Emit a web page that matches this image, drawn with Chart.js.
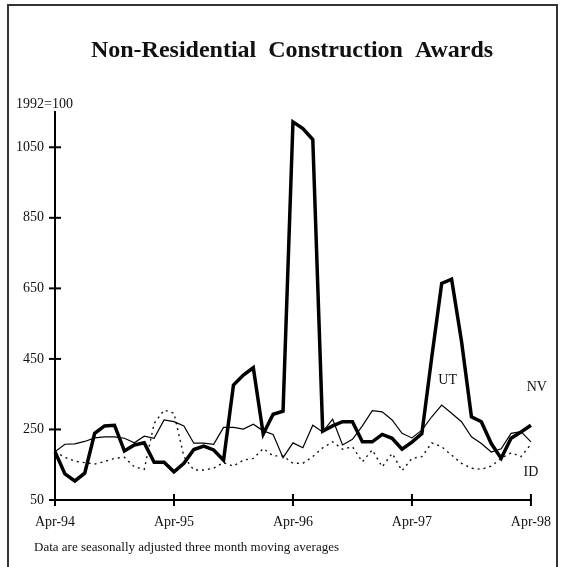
<!DOCTYPE html>
<html>
<head>
<meta charset="utf-8">
<script src="https://cdn.jsdelivr.net/npm/chart.js@4.4.1/dist/chart.umd.min.js"></script>
<style>
  html, body { margin: 0; padding: 0; background: #fff; }
</style>
</head>
<body>
<canvas id="myChart" width="565" height="567"></canvas>
<script>
var meses = ['Apr-94','May-94','Jun-94','Jul-94','Aug-94','Sep-94','Oct-94','Nov-94','Dec-94','Jan-95','Feb-95','Mar-95',
             'Apr-95','May-95','Jun-95','Jul-95','Aug-95','Sep-95','Oct-95','Nov-95','Dec-95','Jan-96','Feb-96','Mar-96',
             'Apr-96','May-96','Jun-96','Jul-96','Aug-96','Sep-96','Oct-96','Nov-96','Dec-96','Jan-97','Feb-97','Mar-97',
             'Apr-97','May-97','Jun-97','Jul-97','Aug-97','Sep-97','Oct-97','Nov-97','Dec-97','Jan-98','Feb-98','Mar-98',
             'Apr-98'];
var etiquetasX = ['Apr-94','Apr-95','Apr-96','Apr-97','Apr-98'];
var marcasY = [50, 250, 450, 650, 850, 1050];

var ut = [187,124,104,126,239,260,262,189,206,212,157,157,
          130,154,193,203,192,163,376,404,425,237,293,302,
          1122,1103,1072,245,260,272,272,215,215,236,225,194,
          214,238,455,664,676,500,286,272,210,168,225,243,
          262];
var nv = [187,208,209,216,226,229,229,225,212,231,225,277,
          272,260,211,211,208,256,256,251,265,246,236,170,
          212,198,262,243,279,206,222,260,303,300,277,239,
          226,248,286,319,296,272,229,210,186,195,239,244,
          215];
var id = [187,171,160,156,152,159,168,171,144,137,267,305,
          296,173,135,135,140,156,146,163,168,196,175,175,
          154,154,173,198,215,194,201,158,192,144,182,133,
          168,173,212,201,177,154,140,137,146,168,184,173,
          208];

var serie = ['UT', 'NV', 'ID'];
var posEtiqueta = [[39.6, 390], [48.6, 370], [48.0, 128]];

var decoracion = {
  id: 'decoracion',
  afterDraw: function(chart) {
    var ctx = chart.ctx;
    var sx = chart.scales.x;
    var sy = chart.scales.y;
    ctx.save();
    ctx.strokeStyle = '#000';
    ctx.lineWidth = 2;
    sy.ticks.forEach(function(t) {
      var py = sy.getPixelForValue(t.value);
      ctx.beginPath(); ctx.moveTo(sx.left - 6, py); ctx.lineTo(sx.left + 6, py); ctx.stroke();
    });
    sx.ticks.forEach(function(t) {
      var px = sx.getPixelForValue(t.value);
      ctx.beginPath(); ctx.moveTo(px, sy.bottom - 6); ctx.lineTo(px, sy.bottom + 6); ctx.stroke();
    });

    // marco
    ctx.strokeStyle = '#333';
    ctx.lineWidth = 2;
    ctx.strokeRect(8, 5, 549, 600);

    ctx.fillStyle = '#111';
    ctx.textBaseline = 'middle';
    ctx.textAlign = 'center';
    ctx.font = 'bold 24px "Liberation Serif"';
    ctx.fillText('Non-Residential  Construction  Awards', 292, 51);

    ctx.textAlign = 'left';
    ctx.font = '14px "Liberation Serif"';
    ctx.fillText('1992=100', 16, 104);

    ctx.font = '13px "Liberation Serif"';
    ctx.fillText('Data are seasonally adjusted three month moving averages', 34, 548);

    ctx.textAlign = 'center';
    ctx.font = '14px "Liberation Serif"';
    serie.forEach(function(nombre, i) {
      ctx.fillText(nombre, sx.getPixelForValue(posEtiqueta[i][0]), sy.getPixelForValue(posEtiqueta[i][1]));
    });
    ctx.restore();
  }
};

var ctx = document.getElementById('myChart').getContext('2d');
var chart = new Chart(ctx, {
  type: 'line',
  data: {
    labels: meses,
    datasets: [
      { label: 'UT', data: ut, borderColor: '#000', borderWidth: 3.5, borderJoinStyle: 'miter' },
      { label: 'NV', data: nv, borderColor: '#000', borderWidth: 1.2 },
      { label: 'ID', data: id, borderColor: '#111', borderWidth: 1.4, borderDash: [2, 4] }
    ]
  },
  options: {
    responsive: false,
    animation: false,
    elements: { point: { radius: 0 }, line: { tension: 0, fill: false } },
    layout: { padding: { left: 0, right: 34, top: 112, bottom: 0 } },
    plugins: { legend: { display: false }, tooltip: { enabled: false }, title: { display: false } },
    scales: {
      x: {
        type: 'category',
        offset: false,
        grid: { display: false, drawTicks: false },
        border: { display: true, color: '#000', width: 2 },
        afterBuildTicks: function(scale) {
          scale.ticks = etiquetasX.map(function(e) { return { value: meses.indexOf(e) }; });
        },
        afterFit: function(scale) { scale.height = 67; },
        ticks: {
          autoSkip: false, maxRotation: 0, padding: 14, color: '#111',
          font: { family: 'Liberation Serif', size: 14 },
          callback: function(v) { return meses[v]; }
        }
      },
      y: {
        min: 50,
        max: 1150,
        grid: { display: false, drawTicks: false },
        border: { display: true, color: '#000', width: 2 },
        afterBuildTicks: function(scale) {
          scale.ticks = marcasY.map(function(v) { return { value: v }; });
        },
        afterFit: function(scale) { scale.width = 55; },
        ticks: {
          padding: 11, color: '#111',
          font: { family: 'Liberation Serif', size: 14 },
          callback: function(v) { return String(v); }
        }
      }
    }
  },
  plugins: [decoracion]
});
</script>
</body>
</html>
